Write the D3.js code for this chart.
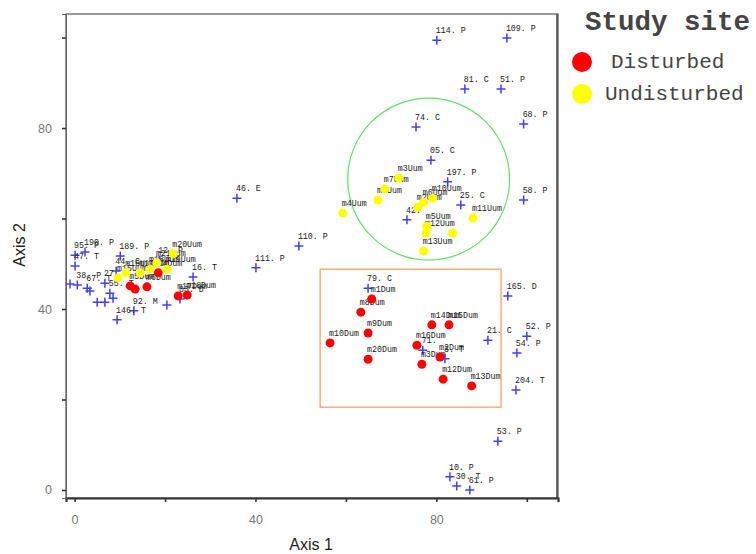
<!DOCTYPE html>
<html><head><meta charset="utf-8">
<script src="https://cdn.jsdelivr.net/npm/d3@7"></script>
<style>body{margin:0;background:#fff;}svg{display:block;}</style>
</head><body>
<svg id="chart" width="756" height="554"></svg>
<script>
// ---- data (Axis 1, Axis 2, label) ----
const speciesPoints = [
  [80.1,99.4,"114. P"],[95.6,99.9,"109. P"],[86.3,88.6,"81. C"],[94.3,88.6,"51. P"],
  [99.3,80.9,"68. P"],[75.5,80.2,"74. C"],[78.8,72.9,"05. C"],[82.5,68.1,"197. P"],
  [85.4,63.0,"25. C"],[99.3,64.1,"58. P"],[73.5,59.7,"42."],[35.9,64.5,"46. E"],
  [49.6,53.9,"110. P"],[40.1,49.1,"111. P"],[95.8,42.9,"165. D"],[64.9,44.6,"79. C"],
  [91.4,33.1,"21. C"],[100.0,34.0,"52. P"],[97.8,30.3,"54. P"],[97.6,22.1,"204. T"],
  [77.0,30.9,"71."],[81.9,29.0,"3. T"],[93.6,10.8,"53. P"],[83.0,2.9,"10. P"],
  [84.5,0.9,"30. T"],[87.4,0.0,"61. P"],
  [0.1,51.9,"95. P"],[0.1,49.5,"47. T"],[0.6,45.3,"38. P"],[2.8,44.6,"67. T"],
  [5.0,41.5,""],[6.7,41.5,""],[7.8,43.5,"55. T"],[9.4,37.6,"146. T"],
  [10.1,51.7,"189. P"],[9.2,48.4,"44. C"],[6.7,45.7,"27. P"],[3.4,44.0,""],
  [2.3,52.6,"190. P"],[18.7,50.8,"12. P"],[20.4,40.9,""],[13.1,39.6,"92. M"],
  [26.2,47.1,"16. T"],[23.3,42.2,"83. D"],[8.5,42.4,""],[-1.0,45.5,""]
];
const disturbedPoints = [
  [65.7,42.2,"m1Dum"],[63.3,39.3,"m8Dum"],[64.9,34.7,"m9Dum"],[56.5,32.5,"m10Dum"],
  [64.9,28.9,"m20Dum"],[79.0,36.5,"m14Dum"],[82.8,36.5,"m15Dum"],[75.7,32.0,"m16Dum"],
  [80.8,29.4,"m2Dum"],[76.8,27.8,"m3Dum"],[81.5,24.5,"m12Dum"],[87.8,23.0,"m13Dum"],
  [12.3,45.1,"m5Dum"],[16.0,44.9,"m6Dum"],[13.4,44.4,""],[18.5,48.0,"m4Dum"],
  [22.9,42.9,"m17Dum"],[24.9,43.1,"m18Dum"]
];
const undisturbedPoints = [
  [59.3,61.2,"m4Uum"],[67.1,64.1,"m1Uum"],[68.6,66.5,"m7Uum"],[71.7,68.9,"m3Uum"],
  [75.9,62.5,"m2Uum"],[77.2,63.6,"m6Uum"],[79.2,64.5,"m10Uum"],[88.1,60.1,"m11Uum"],
  [77.9,58.3,"m5Uum"],[77.7,56.8,"m12Uum"],[83.6,56.8,""],[77.2,52.8,"m13Uum"],
  [9.6,46.9,"m15Uum"],[11.4,48.0,"m16Uum"],[14.5,48.0,"m17Uum"],[16.7,48.8,"m18Uum"],
  [20.4,48.8,"m19Uum"],[21.8,52.2,"m20Uum"],[18.2,50.2,"m21Uum"]
];
const xTicks = [0,20,40,60,80,100];
const yTicks = [0,20,40,60,80,100];
const tickLabels = ["0","40","80"];
const legendTitle = "Study site";
const legendItems = ["Disturbed","Undisturbed"];
const legendColors = ["#ff0000","#ffff00"];
const greenCircle = {cx:78.3, cy:68.7, r:17.9};
const orangeBox = {x1:54.3, x2:94.3, y1:18.3, y2:48.8};

// ---- drawing ----
const svg = d3.select("#chart");
const x = d3.scaleLinear().domain([-1.9,106.9]).range([66,558]);
const y = d3.scaleLinear().domain([-1.77,105.2]).range([498,14]);

// frame
svg.append("rect").attr("x",66).attr("y",14).attr("width",492).attr("height",484)
  .attr("fill","none").attr("stroke","#555").attr("stroke-width",1.2);
svg.append("line").attr("x1",557).attr("x2",557).attr("y1",14).attr("y2",498)
  .attr("stroke","#444").attr("stroke-width",1.5);

const fmt = d => tickLabels.includes(String(d)) ? String(d) : "";
const xAxis = svg.append("g").attr("transform","translate(0,498)")
  .call(d3.axisBottom(x).tickValues(xTicks).tickFormat(fmt).tickSize(4).tickPadding(13));
xAxis.select(".domain").attr("stroke","#333").attr("stroke-width",2.2);
const yAxis = svg.append("g").attr("transform","translate(66,0)")
  .call(d3.axisLeft(y).tickValues(yTicks).tickFormat(fmt).tickSize(4).tickPadding(10));
yAxis.select(".domain").attr("stroke","#666").attr("stroke-width",1);
[xAxis,yAxis].forEach(a=>{
  a.selectAll(".tick line").attr("stroke","#333").attr("stroke-width",1.6);
  a.selectAll(".tick text").attr("fill","#777").attr("font-family","Liberation Sans, Arial, sans-serif").attr("font-size",12.5);
});

svg.append("text").attr("x",311).attr("y",550).attr("text-anchor","middle")
  .attr("font-family","Liberation Sans, Arial, sans-serif").attr("font-size",16).attr("fill","#222")
  .text("Axis 1");
svg.append("text").attr("transform","translate(25,245) rotate(-90)").attr("text-anchor","middle")
  .attr("font-family","Liberation Sans, Arial, sans-serif").attr("font-size",16).attr("fill","#222")
  .text("Axis 2");

// highlight shapes
svg.append("circle").attr("cx",x(greenCircle.cx)).attr("cy",y(greenCircle.cy))
  .attr("r",x(greenCircle.r)-x(0)).attr("fill","none").attr("stroke","#66dd66").attr("stroke-width",1.2);
svg.append("rect").attr("x",x(orangeBox.x1)).attr("y",y(orangeBox.y2))
  .attr("width",x(orangeBox.x2)-x(orangeBox.x1)).attr("height",y(orangeBox.y1)-y(orangeBox.y2))
  .attr("fill","none").attr("stroke","#ff9f5f").attr("stroke-width",1.3);

// crosses
const cross = svg.append("g");
cross.selectAll("path").data(speciesPoints).join("path")
  .attr("d", d => `M${x(d[0])-4.5},${y(d[1])}H${x(d[0])+4.5}M${x(d[0])},${y(d[1])-4.5}V${y(d[1])+4.5}`)
  .attr("stroke","#3f3fff").attr("stroke-width",1.5).attr("fill","none");

// labels
const allPts = speciesPoints.concat(disturbedPoints, undisturbedPoints);
svg.append("g").selectAll("text").data(allPts.filter(d=>d[2])).join("text")
  .attr("x", d => x(d[0]) - 1).attr("y", d => y(d[1]) - 7)
  .attr("font-family","Liberation Mono, Courier New, monospace").attr("font-size",8.3)
  .attr("fill","#1a1a1a").text(d => d[2]);

// dots
svg.append("g").selectAll("circle").data(disturbedPoints).join("circle")
  .attr("cx",d=>x(d[0])).attr("cy",d=>y(d[1])).attr("r",4.5).attr("fill",legendColors[0]);
svg.append("g").selectAll("circle").data(undisturbedPoints).join("circle")
  .attr("cx",d=>x(d[0])).attr("cy",d=>y(d[1])).attr("r",4.5).attr("fill",legendColors[1]);

// legend
svg.append("text").attr("x",585).attr("y",30).attr("font-family","Liberation Mono, Courier New, monospace")
  .attr("font-weight","bold").attr("font-size",27.5).attr("fill","#444").text(legendTitle);
const lg = svg.append("g").selectAll("g").data(legendItems).join("g")
  .attr("transform",(d,i)=>`translate(0,${62+i*32})`);
lg.append("circle").attr("cx",582).attr("cy",0).attr("r",10).attr("fill",(d,i)=>legendColors[i]);
lg.append("text").attr("x",(d,i)=>i===0?611:605).attr("y",6)
  .attr("font-family","Liberation Mono, Courier New, monospace").attr("font-size",21)
  .attr("fill","#444").text(d=>d);
</script>
</body></html>
